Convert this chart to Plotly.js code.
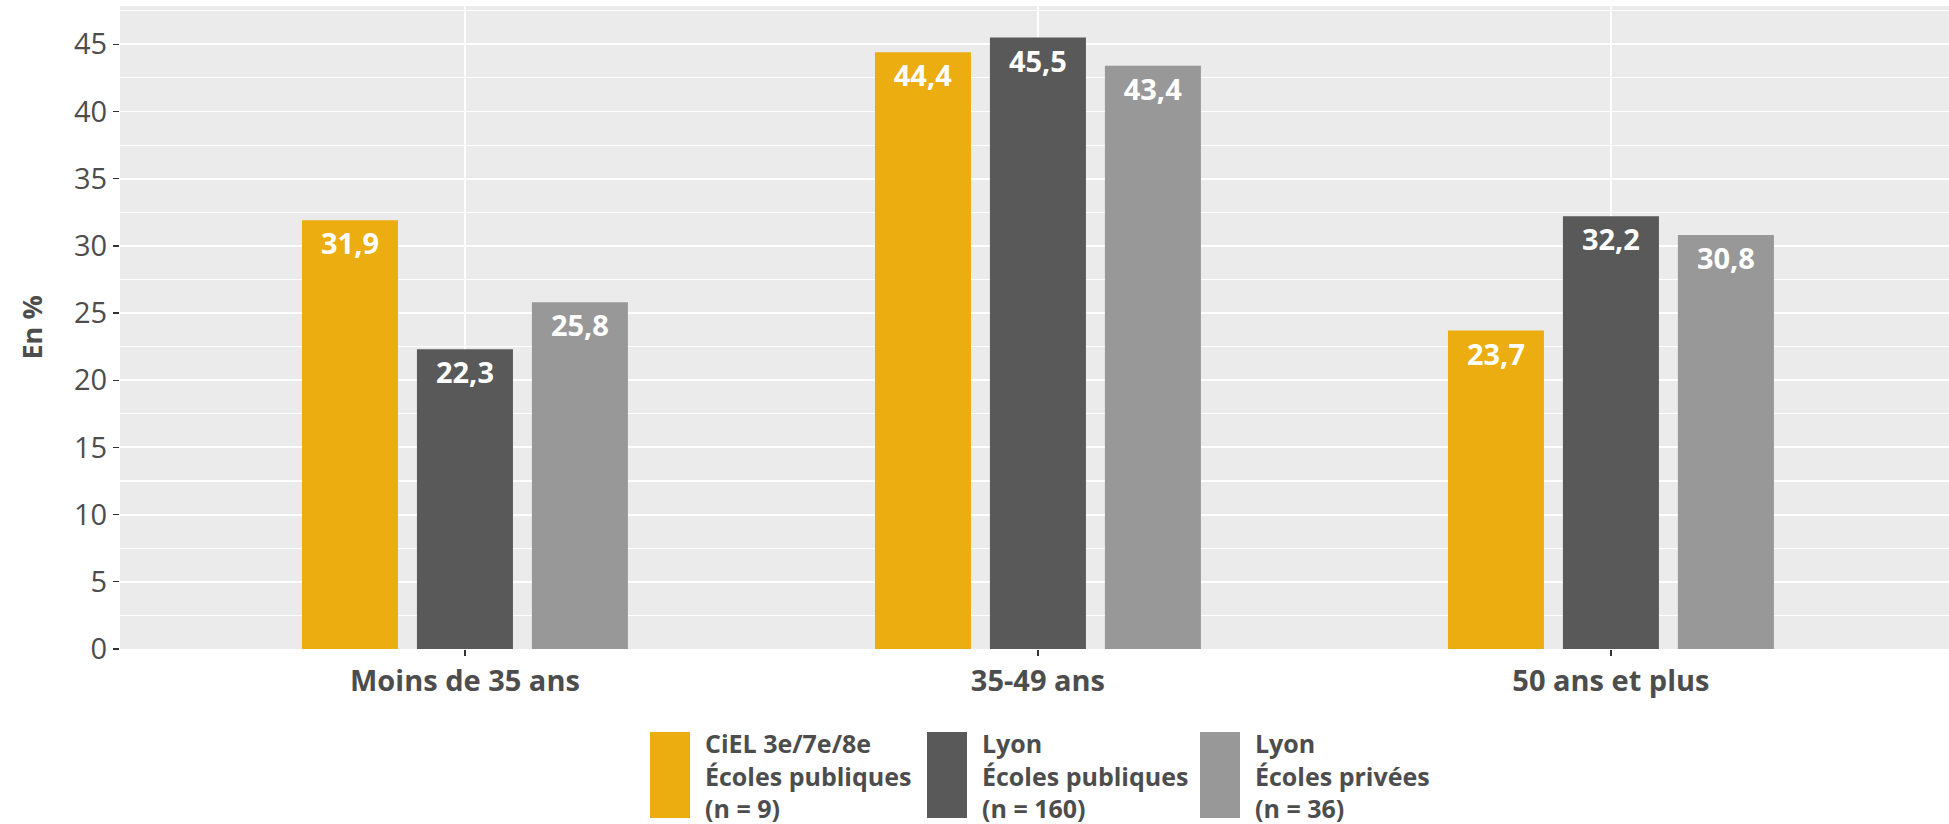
<!DOCTYPE html>
<html>
<head>
<meta charset="utf-8">
<script src="https://cdn.plot.ly/plotly-3.0.1.min.js"></script>
<style>
  html, body { margin: 0; padding: 0; background: #ffffff; }
  #chart { width: 1949px; height: 824px; }
</style>
</head>
<body>
<div id="chart"></div>
<script>
// ---- Data ----
const categories = ['Moins de 35 ans', '35-49 ans', '50 ans et plus'];
const cielPubliques = [31.9, 44.4, 23.7];
const lyonPubliques = [22.3, 45.5, 32.2];
const lyonPrivees = [25.8, 43.4, 30.8];
const seriesNames = [
  'CiEL 3e/7e/8e<br>Écoles publiques<br>(n = 9)',
  'Lyon<br>Écoles publiques<br>(n = 160)',
  'Lyon<br>Écoles privées<br>(n = 36)'
];
const seriesColors = ['#ECAD11', '#595959', '#989898'];
const yTitle = 'En %';

// ---- Layout geometry (pixels) ----
const W = 1949, H = 824;
const M = { l: 120, r: 0, t: 6, b: 175 };
const plotW = W - M.l - M.r, plotH = H - M.t - M.b;
const px2x = px => (px - M.l) / plotW;
const py2y = py => (H - M.b - py) / plotH;

const FONT = 'Open Sans, Lato, DejaVu Sans, sans-serif';
const TEXTCOL = '#4d4d4d';

const seriesValues = [cielPubliques, lyonPubliques, lyonPrivees];
const traces = seriesValues.map((vals, i) => ({
  type: 'bar',
  x: categories,
  y: vals,
  name: seriesNames[i],
  marker: { color: seriesColors[i] },
  texttemplate: '%{y:.1f}',
  textposition: 'inside',
  insidetextanchor: 'end',
  textangle: 0,
  constraintext: 'none',
  textfont: { family: FONT, size: 29, color: '#ffffff', weight: 'bold' },
  hoverinfo: 'x+y+name',
  showlegend: false
}));

// Custom legend (tall swatches, multi-line labels)
const legendSwatchX = [650, 927, 1200];
const swatchW = 40, swatchTop = 732, swatchBottom = 818, textGap = 53;
const shapes = [], annotations = [];
seriesNames.forEach((nm, i) => {
  shapes.push({
    type: 'rect', xref: 'paper', yref: 'paper',
    x0: px2x(legendSwatchX[i]), x1: px2x(legendSwatchX[i] + swatchW),
    y0: py2y(swatchBottom), y1: py2y(swatchTop),
    fillcolor: seriesColors[i], line: { width: 0 }
  });
  annotations.push({
    xref: 'paper', yref: 'paper',
    x: px2x(legendSwatchX[i] + textGap), y: py2y((swatchTop + swatchBottom) / 2),
    xanchor: 'left', yanchor: 'middle', align: 'left',
    text: nm, showarrow: false,
    font: { family: FONT, size: 25, color: TEXTCOL, weight: 'bold' }
  });
});
// Y axis title
annotations.push({
  xref: 'paper', yref: 'paper',
  x: px2x(31), y: 0.5, xanchor: 'center', yanchor: 'middle',
  text: yTitle, textangle: -90, showarrow: false,
  font: { family: FONT, size: 27, color: TEXTCOL, weight: 'bold' }
});

const layout = {
  width: W, height: H,
  margin: M,
  paper_bgcolor: '#ffffff',
  plot_bgcolor: '#EBEBEB',
  separators: ', ',
  barmode: 'group',
  bargap: 0.398,
  bargroupgap: 0.165,
  showlegend: false,
  font: { family: FONT, color: TEXTCOL },
  xaxis: {
    type: 'category',
    range: [-0.602, 2.590],
    showgrid: true, gridcolor: '#ffffff', gridwidth: 1.9,
    zeroline: false, showline: false,
    ticks: 'outside', ticklen: 6, tickwidth: 1.3, tickcolor: '#333333',
    tickfont: { family: FONT, size: 29, color: TEXTCOL, weight: 'bold' },
    automargin: false, fixedrange: true
  },
  yaxis: {
    range: [0, 47.85],
    dtick: 5, tick0: 0,
    showgrid: true, gridcolor: '#ffffff', gridwidth: 1.9,
    minor: { dtick: 2.5, showgrid: true, gridcolor: '#ffffff', gridwidth: 1.1 },
    zeroline: false, showline: false,
    ticks: 'outside', ticklen: 6, tickwidth: 1.3, tickcolor: '#333333',
    tickfont: { family: FONT, size: 29, color: TEXTCOL },
    automargin: false, fixedrange: true
  },
  shapes: shapes,
  annotations: annotations
};

Plotly.newPlot('chart', traces, layout, { displayModeBar: false, staticPlot: true });
</script>
</body>
</html>
